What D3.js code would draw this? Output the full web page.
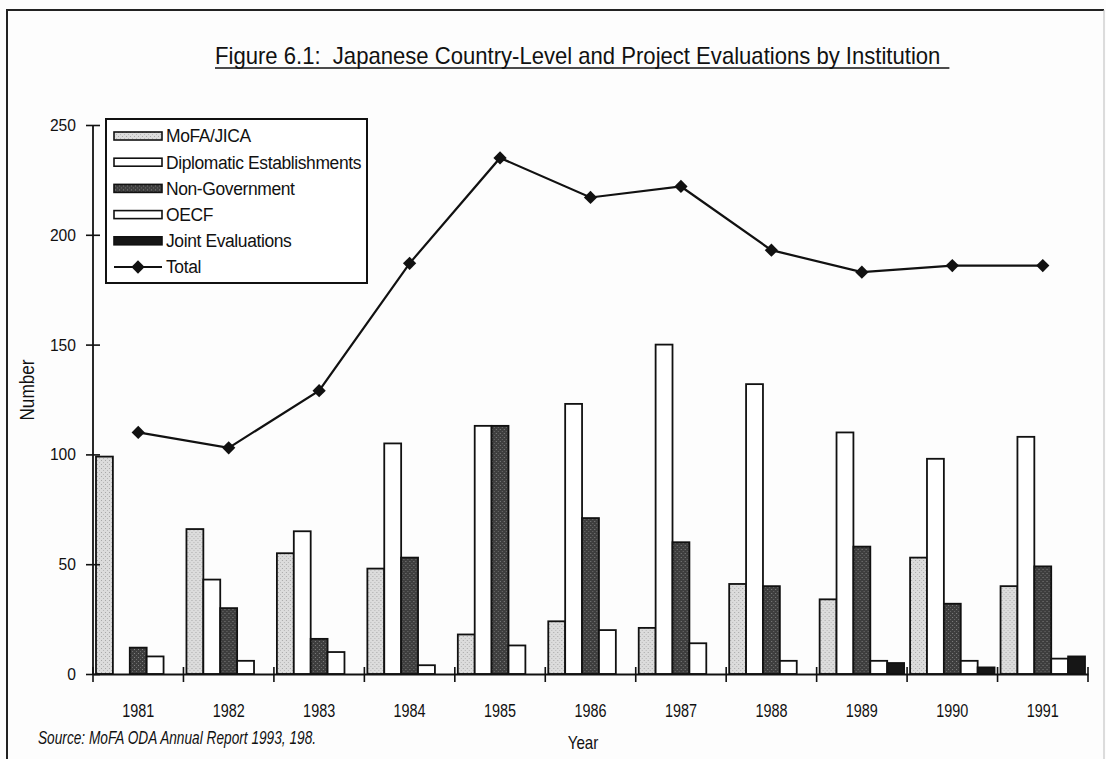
<!DOCTYPE html>
<html>
<head>
<meta charset="utf-8">
<script src="https://cdn.jsdelivr.net/npm/d3@7"></script>
<style>
    body { margin: 0; background: #fff; }
    svg { display: block; }
    text { font-family: "Liberation Sans", Arial, sans-serif; fill: #111; }
</style>
</head>
<body>
<div id="chart"></div>
<script>
// Chart values
var years = ["1981", "1982", "1983", "1984", "1985", "1986", "1987", "1988", "1989", "1990", "1991"];
var seriesNames = ["MoFA/JICA", "Diplomatic Establishments", "Non-Government", "OECF", "Joint Evaluations"];
var mofa = [99, 66, 55, 48, 18, 24, 21, 41, 34, 53, 40];
var diplomatic = [0, 43, 65, 105, 113, 123, 150, 132, 110, 98, 108];
var nonGov = [12, 30, 16, 53, 113, 71, 60, 40, 58, 32, 49];
var oecf = [8, 6, 10, 4, 13, 20, 14, 6, 6, 6, 7];
var joint = [0, 0, 0, 0, 0, 0, 0, 0, 5, 3, 8];
var total = [110, 103, 129, 187, 235, 217, 222, 193, 183, 186, 186];
var yTicks = [0, 50, 100, 150, 200, 250];

var seriesValues = [mofa, diplomatic, nonGov, oecf, joint];
var seriesFills = ["url(#lightDots)", "#fff", "url(#darkDots)", "#fff", "#161616"];

var width = 1106, height = 759;

// squeeze text horizontally, the scan uses a narrow typeface
function condense(sel, factor) {
    sel.each(function () {
        var w = this.getComputedTextLength();
        d3.select(this)
            .attr("textLength", w * factor)
            .attr("lengthAdjust", "spacingAndGlyphs");
    });
}

var svg = d3.select("#chart")
    .append("svg")
    .attr("width", width)
    .attr("height", height);

// stippled fills like the scanned original
var defs = svg.append("defs");
var light = defs.append("pattern")
    .attr("id", "lightDots")
    .attr("width", 4).attr("height", 4)
    .attr("patternUnits", "userSpaceOnUse");
light.append("rect").attr("width", 4).attr("height", 4).attr("fill", "#dcdcdc");
light.append("rect").attr("x", 0).attr("y", 0).attr("width", 1).attr("height", 1).attr("fill", "#a8a8a8");
light.append("rect").attr("x", 2).attr("y", 2).attr("width", 1).attr("height", 1).attr("fill", "#b8b8b8");

var dark = defs.append("pattern")
    .attr("id", "darkDots")
    .attr("width", 4).attr("height", 4)
    .attr("patternUnits", "userSpaceOnUse");
dark.append("rect").attr("width", 4).attr("height", 4).attr("fill", "#3e3e3e");
dark.append("rect").attr("x", 1).attr("y", 1).attr("width", 1).attr("height", 1).attr("fill", "#808080");
dark.append("rect").attr("x", 3).attr("y", 3).attr("width", 1).attr("height", 1).attr("fill", "#6a6a6a");

// page background and frame
svg.append("rect").attr("width", width).attr("height", height).attr("fill", "#fdfdfd");
svg.append("line").attr("x1", 6).attr("x2", 1104).attr("y1", 10).attr("y2", 10)
    .attr("stroke", "#222").attr("stroke-width", 2);
svg.append("line").attr("x1", 7).attr("x2", 7).attr("y1", 10).attr("y2", height)
    .attr("stroke", "#222").attr("stroke-width", 2);
svg.append("line").attr("x1", 1104).attr("x2", 1104).attr("y1", 10).attr("y2", height)
    .attr("stroke", "#bbb").attr("stroke-width", 1);

// scales
var x = d3.scaleBand().domain(years).range([93, 1088]).padding(0);
var xInner = d3.scaleBand().domain(seriesNames).range([3, x.bandwidth() - 3]).padding(0);
var y = d3.scaleLinear().domain([0, 250]).range([674, 125]);

// bars
var groups = svg.selectAll(".year")
    .data(years)
    .enter()
    .append("g")
    .attr("class", "year")
    .attr("transform", d => "translate(" + x(d) + ",0)");

groups.selectAll("rect")
    .data((d, i) => seriesNames.map((s, j) => ({ name: s, value: seriesValues[j][i], fill: seriesFills[j] }))
        .filter(b => b.value > 0))
    .enter()
    .append("rect")
    .attr("x", d => xInner(d.name))
    .attr("y", d => y(d.value))
    .attr("width", xInner.bandwidth())
    .attr("height", d => y(0) - y(d.value))
    .attr("fill", d => d.fill)
    .attr("stroke", "#111")
    .attr("stroke-width", 1.8);

// y axis with ticks crossing the line
var yAxis = svg.append("g")
    .attr("transform", "translate(93,0)")
    .call(d3.axisLeft(y).tickValues(yTicks).tickSize(7).tickPadding(10));
yAxis.select(".domain").attr("stroke", "#111").attr("stroke-width", 1.8).attr("d", "M0," + y(250) + "V" + y(0));
yAxis.selectAll(".tick line").attr("x1", 7).attr("x2", -7).attr("stroke", "#111").attr("stroke-width", 1.6);
yAxis.selectAll(".tick text").attr("font-size", 17)
    .style("font-family", "'Liberation Sans', Arial, sans-serif").attr("fill", "#111");
condense(yAxis.selectAll(".tick text"), 0.92);

// x axis: labels centred, tick marks on group boundaries
var xAxis = svg.append("g")
    .attr("transform", "translate(0," + y(0) + ")")
    .call(d3.axisBottom(x).tickSize(0).tickPadding(30));
xAxis.select(".domain").attr("stroke", "#111").attr("stroke-width", 1.8);
xAxis.selectAll(".tick text").attr("font-size", 18).attr("fill", "#111")
    .style("font-family", "'Liberation Sans', Arial, sans-serif");
condense(xAxis.selectAll(".tick text"), 0.8);

var bounds = years.map(d => x(d)).concat([x.range()[1]]);
xAxis.selectAll(".bound")
    .data(bounds)
    .enter()
    .append("line")
    .attr("x1", d => d).attr("x2", d => d)
    .attr("y1", -7).attr("y2", 8)
    .attr("stroke", "#111").attr("stroke-width", 1.6);

// total line
var line = d3.line()
    .x((d, i) => x(years[i]) + x.bandwidth() / 2)
    .y(d => y(d));
svg.append("path")
    .datum(total)
    .attr("d", line)
    .attr("fill", "none")
    .attr("stroke", "#111")
    .attr("stroke-width", 2.2);

var diamond = d3.symbol().type(d3.symbolSquare).size(88);
svg.selectAll(".marker")
    .data(total)
    .enter()
    .append("path")
    .attr("class", "marker")
    .attr("d", diamond)
    .attr("transform", (d, i) => "translate(" + (x(years[i]) + x.bandwidth() / 2) + "," + y(d) + ") rotate(45)")
    .attr("fill", "#111");

// legend
var legend = svg.append("g").attr("transform", "translate(106,119)");
legend.append("rect")
    .attr("width", 261).attr("height", 164)
    .attr("fill", "#fff").attr("stroke", "#111").attr("stroke-width", 2);

var legendItems = seriesNames.concat(["Total"]);
var rowY = d3.scalePoint().domain(legendItems).range([17, 148]);

var rows = legend.selectAll(".row")
    .data(legendItems)
    .enter()
    .append("g")
    .attr("transform", d => "translate(0," + rowY(d) + ")");

rows.filter((d, i) => i < 5)
    .append("rect")
    .attr("x", 8).attr("y", -4)
    .attr("width", 48).attr("height", 8)
    .attr("fill", (d, i) => seriesFills[i])
    .attr("stroke", "#111").attr("stroke-width", 1.6);

var totalRow = rows.filter(d => d === "Total");
totalRow.append("line")
    .attr("x1", 8).attr("x2", 56).attr("y1", 0).attr("y2", 0)
    .attr("stroke", "#111").attr("stroke-width", 2);
totalRow.append("path")
    .attr("d", diamond)
    .attr("transform", "translate(32,0) rotate(45)")
    .attr("fill", "#111");

var legendText = rows.append("text")
    .attr("x", 60).attr("y", 0)
    .attr("dy", "0.36em")
    .attr("font-size", 18)
    .style("letter-spacing", "-0.4px")
    .text(d => d);
condense(legendText, 0.97);

// title
var title = svg.append("text")
    .attr("x", 215).attr("y", 64)
    .attr("font-size", 24)
    .attr("xml:space", "preserve")
    .style("white-space", "pre")
    .text("Figure 6.1:  Japanese Country-Level and Project Evaluations by Institution");
condense(title, 0.92);
var tw = +title.attr("textLength");
svg.append("line")
    .attr("x1", 215).attr("x2", 215 + tw + 9)
    .attr("y1", 68).attr("y2", 68)
    .attr("stroke", "#111").attr("stroke-width", 1.6);

// axis titles and source
var yTitle = svg.append("text")
    .attr("transform", "translate(34,390) rotate(-90)")
    .attr("text-anchor", "middle")
    .attr("font-size", 20)
    .text("Number");
condense(yTitle, 0.86);

var xTitle = svg.append("text")
    .attr("x", 583).attr("y", 749)
    .attr("text-anchor", "middle")
    .attr("font-size", 19)
    .text("Year");
condense(xTitle, 0.8);

var source = svg.append("text")
    .attr("x", 38).attr("y", 744)
    .attr("font-size", 19)
    .attr("font-style", "italic")
    .text("Source: MoFA ODA Annual Report 1993, 198.");
condense(source, 0.72);
</script>
</body>
</html>
